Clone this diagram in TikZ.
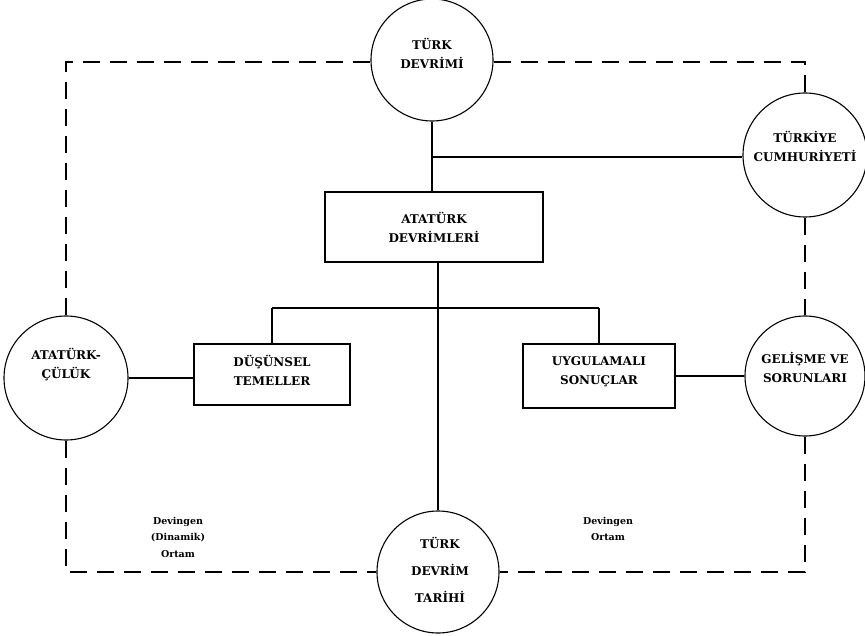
\documentclass[tikz,border=0pt]{standalone}
\usepackage{fontspec}
\setmainfont{DejaVu Serif}
\begin{document}
\begin{tikzpicture}[x=1pt,y=-1pt,
  circ/.style={draw,circle,line width=1.1pt,minimum size=#1,inner sep=0pt},
  circ/.default=122pt,
  boxn/.style={draw,rectangle,line width=1.8pt,inner sep=0pt},
  lab/.style={font=\bfseries\fontsize{12}{19}\selectfont,align=center,inner sep=0pt},
  small/.style={font=\bfseries\fontsize{9.5}{16.5}\selectfont,align=center,inner sep=0pt},
  conn/.style={line width=1.6pt},
  dline/.style={line width=2pt,dash pattern=on 17pt off 10pt}]
\useasboundingbox (0,0) rectangle (865,636);
% circles
\node[circ] (T) at (432,60) {};
\node[circ=124pt] (K) at (805,155) {};
\node[circ=120pt] (G) at (805,376) {};
\node[circ=124pt] (A) at (66,378) {};
\node[circ=122pt] (R) at (438,572) {};
% boxes
\node[boxn,minimum width=218pt,minimum height=70pt] (AD) at (434,227) {};
\node[boxn,minimum width=156pt,minimum height=61pt] (DT) at (272,374.5) {};
\node[boxn,minimum width=152pt,minimum height=64pt] (US) at (599,376) {};
% texts
\node[lab] (tT) at (432,53) {TÜRK\\DEVRİMİ};
\node[lab] (tK) at (805,146) {TÜRKİYE\\CUMHURİYETİ};
\node[lab] (tG) at (805,367) {GELİŞME VE\\SORUNLARI};
\node[lab] (tA) at (66,365) {ATATÜRK-\\ÇÜLÜK};
\node[lab,font=\bfseries\fontsize{12}{27}\selectfont] (tR) at (440,570) {TÜRK\\DEVRİM\\TARİHİ};
\node[lab] (tAD) at (434,227) {ATATÜRK\\DEVRİMLERİ};
\node[lab] (tDT) at (272,370) {DÜŞÜNSEL\\TEMELLER};
\node[lab] (tUS) at (599,372) {UYGULAMALI\\SONUÇLAR};
\node[small] (l1) at (178,537) {Devingen\\(Dinamik)\\Ortam};
\node[small] (l2) at (608,529) {Devingen\\Ortam};
% coordinates
\coordinate (jK) at (432,157);
\coordinate (bL) at (272,308);
\coordinate (bR) at (599,308);
\coordinate (cTL) at (66,62);
\coordinate (cTR) at (805,62);
\coordinate (cBL) at (66,572);
\coordinate (cBR) at (805,572);
% solid connectors
\draw[conn] (T.south) -- (T.south |- AD.north);
\draw[conn] (jK) -- (jK -| K.west);
\draw[conn] (R.north |- AD.south) -- (R.north);
\draw[conn] (bL) -- (bR);
\draw[conn] (bL) -- (DT.north);
\draw[conn] (bR) -- (US.north);
\draw[conn] (A.east) -- (A.east -| DT.west);
\draw[conn] (US.east |- G.west) -- (G.west);
% dashed frame
\draw[dline] (T.west |- cTL) -- (cTL) -- (A.north);
\draw[dline] (T.east |- cTR) -- (cTR) -- (K.north);
\draw[dline] (K.south) -- (G.north);
\draw[dline] (G.south) -- (cBR) -- (R.east);
\draw[dline] (A.south) -- (cBL) -- (R.west);
\end{tikzpicture}
\end{document}
